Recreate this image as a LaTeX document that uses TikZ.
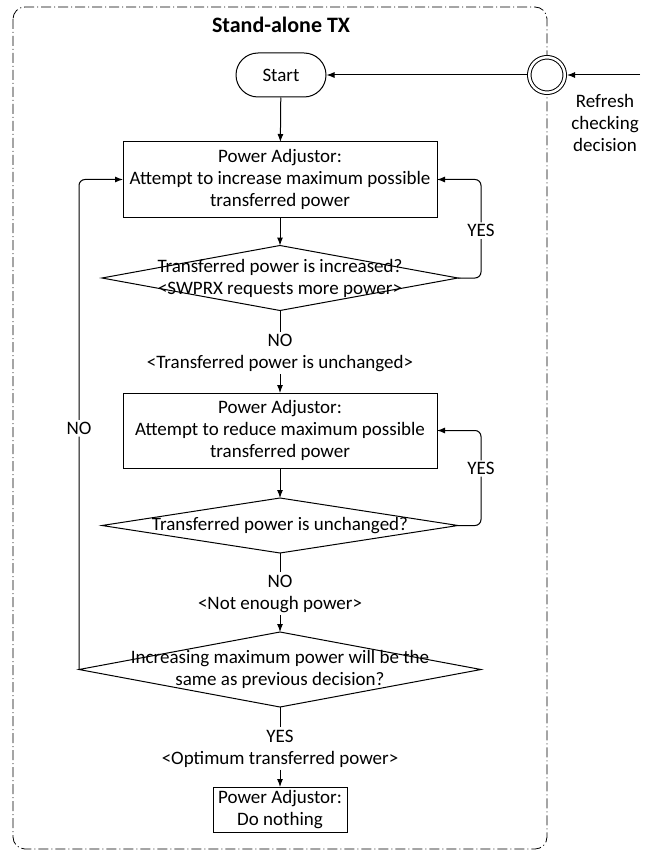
\documentclass[tikz,border=0pt]{standalone}
\usepackage{fontspec}
\setmainfont{Carlito}
\usetikzlibrary{shapes.geometric, arrows.meta}

\begin{document}
\begin{tikzpicture}[x=1pt, y=-1pt, font=\fontsize{19}{22}\selectfont, line width=1pt,
  >={Latex[length=8pt,width=6pt]},
  process/.style={draw, rectangle, align=center, inner sep=0pt, outer sep=0pt},
  decision/.style={draw, diamond, inner sep=0pt, outer sep=0pt, minimum width=356pt},
  terminal/.style={draw, rectangle, rounded corners=22pt, minimum width=90pt, minimum height=44pt},
  note/.style={align=center, inner sep=2pt},
  loopline/.style={->, rounded corners=6pt},
  cut/.style={fill=white, inner sep=2pt}]
\useasboundingbox (0,0) rectangle (651,853);
% Frame
\draw[line width=0.8pt, dash pattern=on 10pt off 3pt on 1pt off 3pt, rounded corners=12pt] (13,7) rectangle (547,849);
\node[font=\fontsize{22}{24}\selectfont\bfseries] (title) at (281,25) {Stand-alone TX};
\node[terminal] (start) at (281,75) {Start};
\node[draw, circle, double, double distance=2.5pt, minimum size=35.5pt, fill=white, outer sep=2.25pt] (refresh) at (547,75) {};
\coordinate (ext) at (640,75);
\node[note] (reftext) at (605,123) {Refresh\\checking\\decision};
\node[process, minimum width=314pt, minimum height=75pt] (b1) at (280,179.5) {Power Adjustor:\\Attempt to increase maximum possible\\transferred power};
\node[decision, minimum height=65pt, label={[align=center]center:Transferred power is increased?\\<SWPRX requests more power>}] (d1) at (280,278) {};
\node[note] (lno1) at (280,353) {NO\\<Transferred power is unchanged>};
\node[process, minimum width=314pt, minimum height=75pt] (b2) at (280,430.5) {Power Adjustor:\\Attempt to reduce maximum possible\\transferred power};
\node[decision, minimum height=55pt, label={center:Transferred power is unchanged?}] (d2) at (280,525.5) {};
\node[note] (lno2) at (280,593.5) {NO\\<Not enough power>};
\node[decision, minimum width=402pt, minimum height=75pt, label={[align=center]center:Increasing maximum power will be the\\same as previous decision?}] (d3) at (280,669.5) {};
\node[note] (lyes) at (280,748.5) {YES\\<Optimum transferred power>};
\node[process, minimum width=134pt, minimum height=45pt] (b3) at (280,809.5) {Power Adjustor:\\Do nothing};
% Arrows
\draw[->] (ext) -- (refresh);
\draw[->] (refresh) -- (start);
\draw[->] (start) -- (b1);
\draw[->] (b1) -- (d1);
\draw[loopline] (d1.east) -- ++(23,0) |- node[cut, pos=0.24] {YES} (b1.east);
\draw (d1) -- (lno1);
\draw[->] (lno1) -- (b2);
\draw[->] (b2) -- (d2);
\draw[loopline] (d2.east) -- ++(23,0) |- node[cut, pos=0.30] {YES} (b2.east);
\draw (d2) -- (lno2);
\draw[->] (lno2) -- (d3);
\draw[loopline] (d3.west) |- node[cut, pos=0.246] {NO} (b1.west);
\draw (d3) -- (lyes);
\draw[->] (lyes) -- (b3);
\end{tikzpicture}
\end{document}
